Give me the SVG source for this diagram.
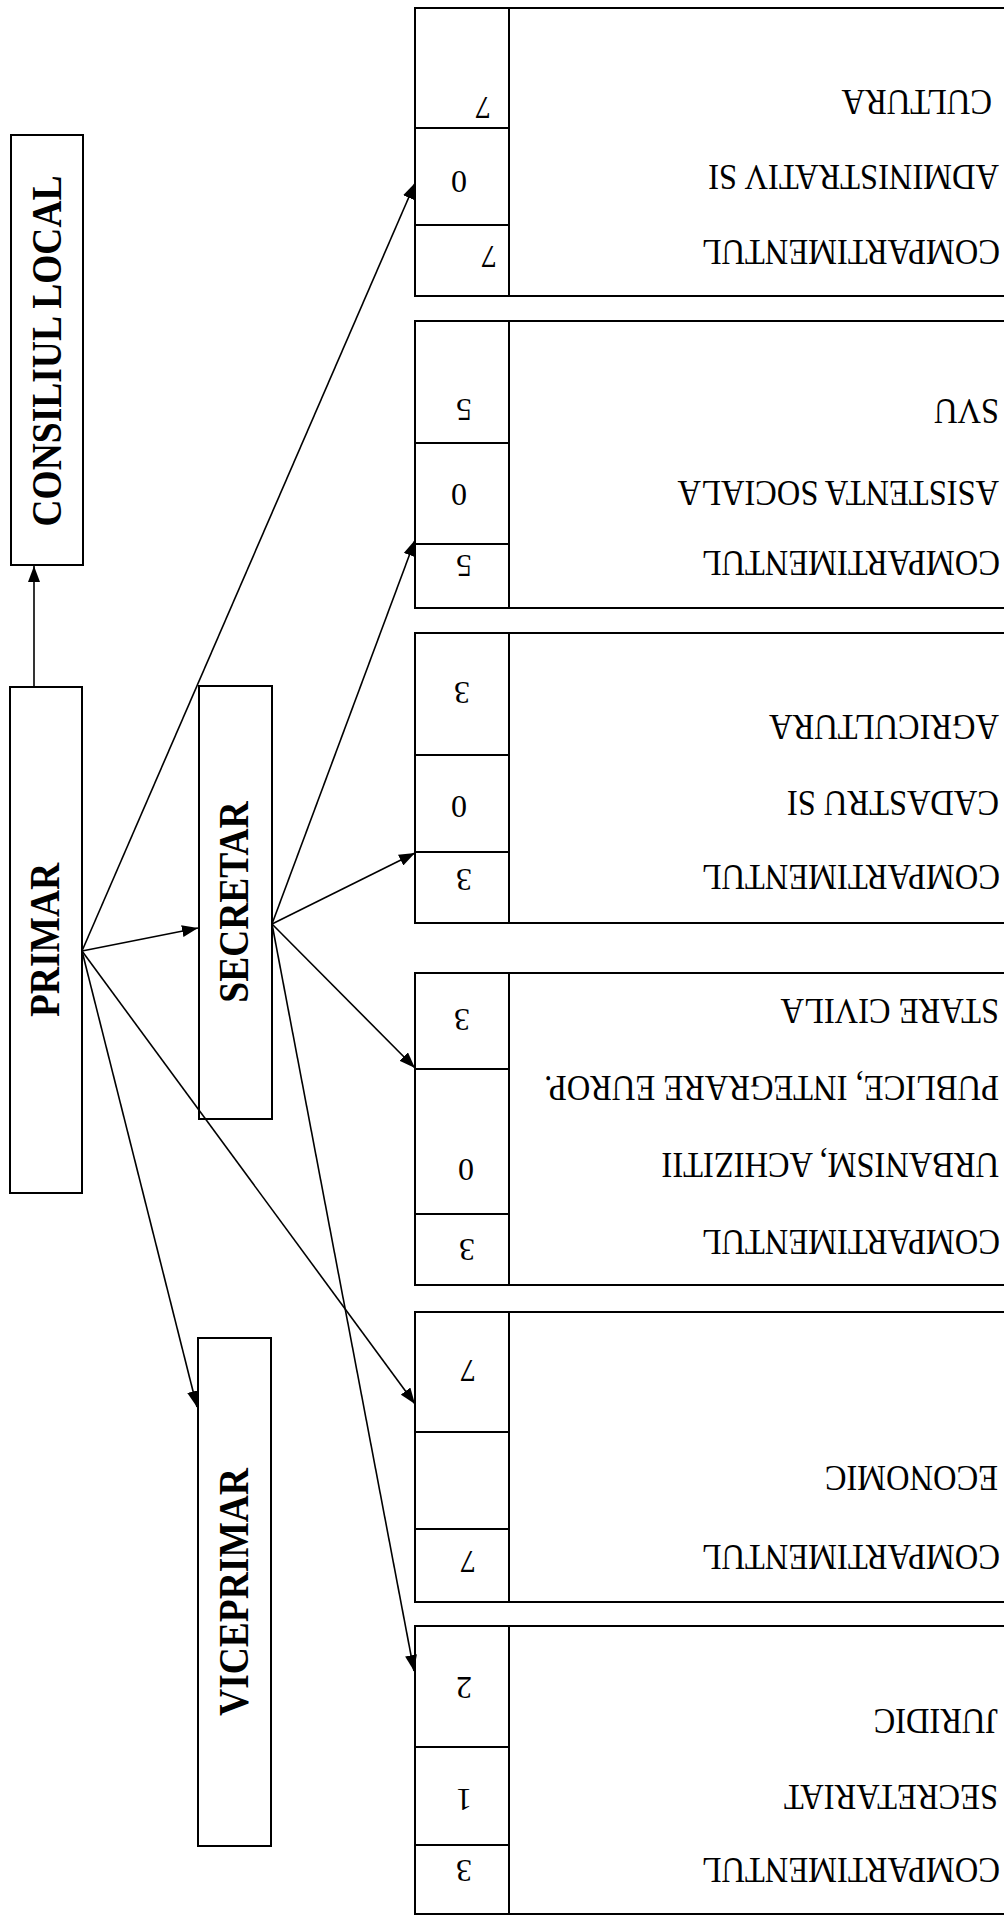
<svg xmlns="http://www.w3.org/2000/svg" width="1004" height="1917" viewBox="0 0 1004 1917">
<style>
.bx{fill:#fff;stroke:#000;stroke-width:2}
.ln{stroke:#000;stroke-width:2;fill:none}
.cn{stroke:#000;stroke-width:1.6;fill:none;marker-end:url(#ah)}
.lt{font-family:"Liberation Serif","Times New Roman",serif;font-weight:bold;font-size:37.5px;text-anchor:middle;fill:#000}
.rt{font-family:"Liberation Serif","Times New Roman",serif;font-size:32.5px;fill:#000}
.nm{font-family:"Liberation Serif","Times New Roman",serif;font-size:32px;text-anchor:middle;fill:#000}
</style>
<defs>
<marker id="ah" markerUnits="userSpaceOnUse" markerWidth="18" markerHeight="12" refX="16" refY="6" orient="auto">
<path d="M0,0 L16,6 L0,12 Z" fill="#000"/>
</marker>
</defs>
<rect width="1004" height="1917" fill="#fff"/>

<g id="consiliul-local">
<rect class="bx" x="11" y="135" width="72" height="430"/>
<text class="lt" transform="translate(47,351) rotate(-90) scale(1,1.1)" y="12.5">CONSILIUL LOCAL</text>
</g>
<g id="primar">
<rect class="bx" x="10" y="687" width="72" height="506"/>
<text class="lt" transform="translate(45,940) rotate(-90) scale(1,1.1)" y="12.5">PRIMAR</text>
</g>
<g id="secretar">
<rect class="bx" x="199" y="686" width="73" height="433"/>
<text class="lt" transform="translate(234,902) rotate(-90) scale(1,1.1)" y="12.5">SECRETAR</text>
</g>
<g id="viceprimar">
<rect class="bx" x="198" y="1338" width="73" height="508"/>
<text class="lt" transform="translate(234,1592) rotate(-90) scale(1,1.1)" y="12.5">VICEPRIMAR</text>
</g>

<g id="comp-administrativ">
<rect class="bx" x="415" y="8" width="600" height="288"/>
<path class="ln" d="M509,8 V296 M415,128 H509 M415,225 H509"/>
<text class="rt" transform="translate(992,102) rotate(180) scale(1,1.08)" y="11">CULTURA</text>
<text class="rt" transform="translate(999,177) rotate(180) scale(1,1.08)" y="11">ADMINISTRATIV SI</text>
<text class="rt" transform="translate(1000,252) rotate(180) scale(1,1.08)" y="11">COMPARTIMENTUL</text>
<text class="nm" transform="translate(483,108) rotate(180)" y="11">7</text>
<text class="nm" transform="translate(459,182) rotate(180)" y="11">0</text>
<text class="nm" transform="translate(489,257) rotate(180)" y="11">7</text>
</g>

<g id="comp-asistenta">
<rect class="bx" x="415" y="321" width="600" height="287"/>
<path class="ln" d="M509,321 V608 M415,443 H509 M415,544 H509"/>
<text class="rt" transform="translate(999,411) rotate(180) scale(1,1.08)" y="11">SVU</text>
<text class="rt" transform="translate(999,493) rotate(180) scale(1,1.08)" y="11">ASISTENTA SOCIALA</text>
<text class="rt" transform="translate(1000,563) rotate(180) scale(1,1.08)" y="11">COMPARTIMENTUL</text>
<text class="nm" transform="translate(464,410) rotate(180)" y="11">5</text>
<text class="nm" transform="translate(459,495) rotate(180)" y="11">0</text>
<text class="nm" transform="translate(464,566) rotate(180)" y="11">5</text>
</g>

<g id="comp-cadastru">
<rect class="bx" x="415" y="633" width="600" height="290"/>
<path class="ln" d="M509,633 V923 M415,755 H509 M415,852 H509"/>
<text class="rt" transform="translate(999,727) rotate(180) scale(1,1.08)" y="11">AGRICULTURA</text>
<text class="rt" transform="translate(999,803) rotate(180) scale(1,1.08)" y="11">CADASTRU SI</text>
<text class="rt" transform="translate(1000,877) rotate(180) scale(1,1.08)" y="11">COMPARTIMENTUL</text>
<text class="nm" transform="translate(462,693) rotate(180)" y="11">3</text>
<text class="nm" transform="translate(459,807) rotate(180)" y="11">0</text>
<text class="nm" transform="translate(464,880) rotate(180)" y="11">3</text>
</g>

<g id="comp-urbanism">
<rect class="bx" x="415" y="973" width="600" height="312"/>
<path class="ln" d="M509,973 V1285 M415,1069 H509 M415,1214 H509"/>
<text class="rt" transform="translate(999,1011) rotate(180) scale(1,1.08)" y="11">STARE CIVILA</text>
<text class="rt" transform="translate(999,1088) rotate(180) scale(1,1.08)" y="11">PUBLICE, INTEGRARE EUROP.</text>
<text class="rt" transform="translate(999,1165) rotate(180) scale(1,1.08)" y="11">URBANISM, ACHIZITII</text>
<text class="rt" transform="translate(1000,1242) rotate(180) scale(1,1.08)" y="11">COMPARTIMENTUL</text>
<text class="nm" transform="translate(462,1020) rotate(180)" y="11">3</text>
<text class="nm" transform="translate(466,1170) rotate(180)" y="11">0</text>
<text class="nm" transform="translate(467,1250) rotate(180)" y="11">3</text>
</g>

<g id="comp-economic">
<rect class="bx" x="415" y="1312" width="600" height="290"/>
<path class="ln" d="M509,1312 V1602 M415,1432 H509 M415,1529 H509"/>
<text class="rt" transform="translate(998,1478) rotate(180) scale(1,1.08)" y="11">ECONOMIC</text>
<text class="rt" transform="translate(1000,1557) rotate(180) scale(1,1.08)" y="11">COMPARTIMENTUL</text>
<text class="nm" transform="translate(468,1371) rotate(180)" y="11">7</text>
<text class="nm" transform="translate(468,1562) rotate(180)" y="11">7</text>
</g>

<g id="comp-secretariat">
<rect class="bx" x="415" y="1626" width="600" height="288"/>
<path class="ln" d="M509,1626 V1914 M415,1747 H509 M415,1845 H509"/>
<text class="rt" transform="translate(998,1721) rotate(180) scale(1,1.08)" y="11">JURIDIC</text>
<text class="rt" transform="translate(998,1797) rotate(180) scale(1,1.08)" y="11">SECRETARIAT</text>
<text class="rt" transform="translate(1000,1870) rotate(180) scale(1,1.08)" y="11">COMPARTIMENTUL</text>
<text class="nm" transform="translate(464,1688) rotate(180)" y="11">2</text>
<text class="nm" transform="translate(464,1800) rotate(180)" y="11">1</text>
<text class="nm" transform="translate(464,1871) rotate(180)" y="11">3</text>
</g>

<g id="connectors">
<line class="cn" x1="34" y1="687" x2="34" y2="566"/>
<line class="cn" x1="82" y1="951" x2="415" y2="183"/>
<line class="cn" x1="82" y1="951" x2="198" y2="928"/>
<line class="cn" x1="82" y1="951" x2="415" y2="1404"/>
<line class="cn" x1="82" y1="951" x2="197" y2="1407"/>
<line class="cn" x1="272" y1="924" x2="415" y2="540"/>
<line class="cn" x1="272" y1="924" x2="415" y2="853"/>
<line class="cn" x1="272" y1="924" x2="415" y2="1068"/>
<line class="cn" x1="272" y1="924" x2="414" y2="1671"/>
</g>
</svg>
